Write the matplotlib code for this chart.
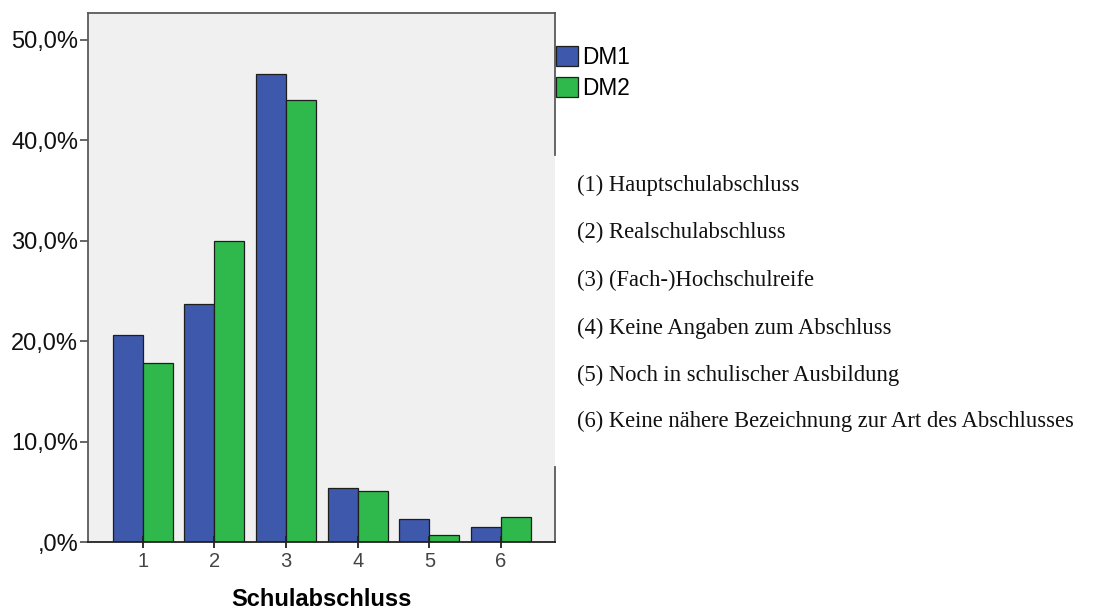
import matplotlib.pyplot as plt
from matplotlib.lines import Line2D
import numpy as np

# Schulabschluss, percentage per group
categories = ["1", "2", "3", "4", "5", "6"]
dm1 = [20.6, 23.65, 46.6, 5.35, 2.25, 1.5]
dm2 = [17.8, 30.0, 44.0, 5.1, 0.65, 2.5]
series_names = ["DM1", "DM2"]
yticks = [0, 10, 20, 30, 40, 50]
ytick_labels = [",0%", "10,0%", "20,0%", "30,0%", "40,0%", "50,0%"]
notes = ["(1) Hauptschulabschluss",
         "(2) Realschulabschluss",
         "(3) (Fach-)Hochschulreife",
         "(4) Keine Angaben zum Abschluss",
         "(5) Noch in schulischer Ausbildung",
         "(6) Keine nähere Bezeichnung zur Art des Abschlusses"]

BLUE = "#3e58ab"
GREEN = "#2fb84b"
BG = "#f0f0f0"
SPINE = "#5a5a5a"

plt.rcParams["font.family"] = ["Liberation Sans", "DejaVu Sans"]

fig = plt.figure(figsize=(11.13, 6.12), dpi=100)
ax = fig.add_axes([88 / 1113, 1 - 542 / 612, (554.7 - 88) / 1113, (542 - 13) / 612])
ax.set_facecolor(BG)

x = np.arange(1, len(categories) + 1)
w = 0.42
ax.bar(x - w / 2, dm1, w, color=BLUE, edgecolor="#1e1e1e", linewidth=0.9, label=series_names[0])
ax.bar(x + w / 2, dm2, w, color=GREEN, edgecolor="#1e1e1e", linewidth=0.9, label=series_names[1])

ax.set_xlim(0.237, 6.749)
ax.set_ylim(0, 52.65)
ax.set_yticks(yticks)
ax.set_yticklabels(ytick_labels, fontsize=17, color="#111111")
ax.set_xticks(x)
ax.set_xticklabels(categories, fontsize=14.5, color="#444444")
ax.tick_params(axis="y", length=6, width=1.3, color=SPINE, pad=1)
ax.tick_params(axis="x", length=8, width=1.3, color="#222222", pad=3, direction="inout")
ax.set_xlabel("Schulabschluss", fontsize=17, fontweight="bold", labelpad=12.5)

for s in ["left", "top"]:
    ax.spines[s].set_color(SPINE)
    ax.spines[s].set_linewidth(1.3)
ax.spines["bottom"].set_color("#222222")
ax.spines["bottom"].set_linewidth(1.3)
ax.spines["right"].set_visible(False)
# right frame is interrupted where the legend text block sits
for y0, y1 in [(0.7316, 1.0), (0.0, 0.1418)]:
    ax.add_line(Line2D([1, 1], [y0, y1], transform=ax.transAxes, color=SPINE,
                       linewidth=1.3, clip_on=False))

leg = ax.legend(loc="upper left", bbox_to_anchor=(1.003, 0.938), frameon=False,
                fontsize=16.3, handlelength=0.95, handleheight=0.95, handletextpad=0.2,
                borderaxespad=0, borderpad=0, labelspacing=0.36)

ys = [185, 232.7, 280.7, 328, 375, 421.7]
for t, yp in zip(notes, ys):
    fig.text(576.7 / 1113, 1 - yp / 612, t, fontsize=16.3, va="center", ha="left",
             family=["Liberation Serif", "DejaVu Serif"], color="#111111")

fig.savefig("out.png", dpi=100, facecolor="white")
